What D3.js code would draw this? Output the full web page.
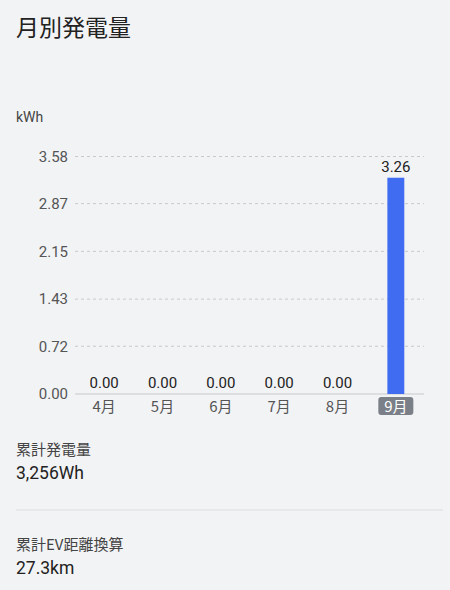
<!DOCTYPE html>
<html><head><meta charset="utf-8">
<script src="https://cdn.jsdelivr.net/npm/d3@7"></script>
<style>
html,body{margin:0;padding:0;background:#f2f3f5;}
svg{display:block;font-family:Roboto,"Noto Sans CJK JP",sans-serif;}
</style></head><body>
<svg id="c" width="450" height="590"></svg>
<script>
const months = ["4月","5月","6月","7月","8月","9月"];
const values = [0, 0, 0, 0, 0, 3.26];
const yTicks = [0, 0.72, 1.43, 2.15, 2.87, 3.58];
const yTickLabels = ["0.00","0.72","1.43","2.15","2.87","3.58"];
const selectedMonth = "9月";
const stats = [
  {label:"累計発電量", value:"3,256Wh"},
  {label:"累計EV距離換算", value:"27.3km"}
];

const svg = d3.select("#c");
const jp = "'Noto Sans CJK JP',Roboto,sans-serif";

svg.append("text").attr("x",16).attr("y",36).attr("font-size",23).attr("fill","#222")
  .attr("font-family",jp).text("月別発電量");
svg.append("text").attr("x",16).attr("y",122).attr("font-size",14).attr("fill","#444").text("kWh");

const x = d3.scaleBand().domain(months).range([75,425]).paddingInner(0.71).paddingOuter(0.355);
const y = d3.scaleLinear().domain([0,3.58]).range([394,156.5]);

// grid
const g = svg.append("g");
g.selectAll("line.grid").data(yTicks.filter(d=>d>0)).join("line")
  .attr("x1",75).attr("x2",424).attr("y1",d=>y(d)).attr("y2",d=>y(d))
  .attr("stroke","#c8c9cc").attr("stroke-width",1).attr("stroke-dasharray","3,3");
g.append("line").attr("x1",75).attr("x2",424).attr("y1",y(0)).attr("y2",y(0))
  .attr("stroke","#c8c9cc").attr("stroke-width",1);

// y axis labels
const yAxis = d3.axisLeft(y).tickValues(yTicks).tickSize(0).tickPadding(0)
  .tickFormat((d,i)=>yTickLabels[i]);
const ya = svg.append("g").attr("transform","translate(68,0)").call(yAxis);
ya.select(".domain").remove();
ya.selectAll("text").attr("font-size",15).attr("fill","#555").attr("font-family","Roboto,sans-serif");

// bars
svg.selectAll("rect.bar").data(values).join("rect").attr("class","bar")
  .attr("x",(d,i)=>x(months[i])).attr("width",x.bandwidth())
  .attr("y",d=>y(d)).attr("height",d=>y(0)-y(d)).attr("fill","#3f6cf0");

// value labels
svg.selectAll("text.val").data(values).join("text").attr("class","val")
  .attr("x",(d,i)=>x(months[i])+x.bandwidth()/2).attr("y",d=>y(d)-6)
  .attr("text-anchor","middle").attr("font-size",15).attr("fill","#222")
  .text(d=>d.toFixed(2));

// x axis labels
const xa = svg.append("g");
months.forEach(m=>{
  const cx = x(m)+x.bandwidth()/2;
  if(m===selectedMonth){
    xa.append("rect").attr("x",cx-17.5).attr("y",397).attr("width",35).attr("height",18)
      .attr("rx",3).attr("fill","#7b7f88");
  }
  xa.append("text").attr("x",cx).attr("y",411.5).attr("text-anchor","middle")
    .attr("font-size",15).attr("font-family",jp)
    .attr("fill",m===selectedMonth?"#fff":"#555").text(m);
});

// stats
const labelY = [455, 550];
stats.forEach((s,i)=>{
  svg.append("text").attr("x",16).attr("y",labelY[i]).attr("font-size",15).attr("fill","#444")
    .attr("font-family",jp).text(s.label);
  svg.append("text").attr("x",16).attr("y",labelY[i]+24).attr("font-size",17.5).attr("fill","#222")
    .attr("font-family","Roboto,sans-serif").text(s.value);
});
svg.append("line").attr("x1",16).attr("x2",443).attr("y1",510).attr("y2",510)
  .attr("stroke","#dcdde0").attr("stroke-width",1);
</script>
</body></html>
